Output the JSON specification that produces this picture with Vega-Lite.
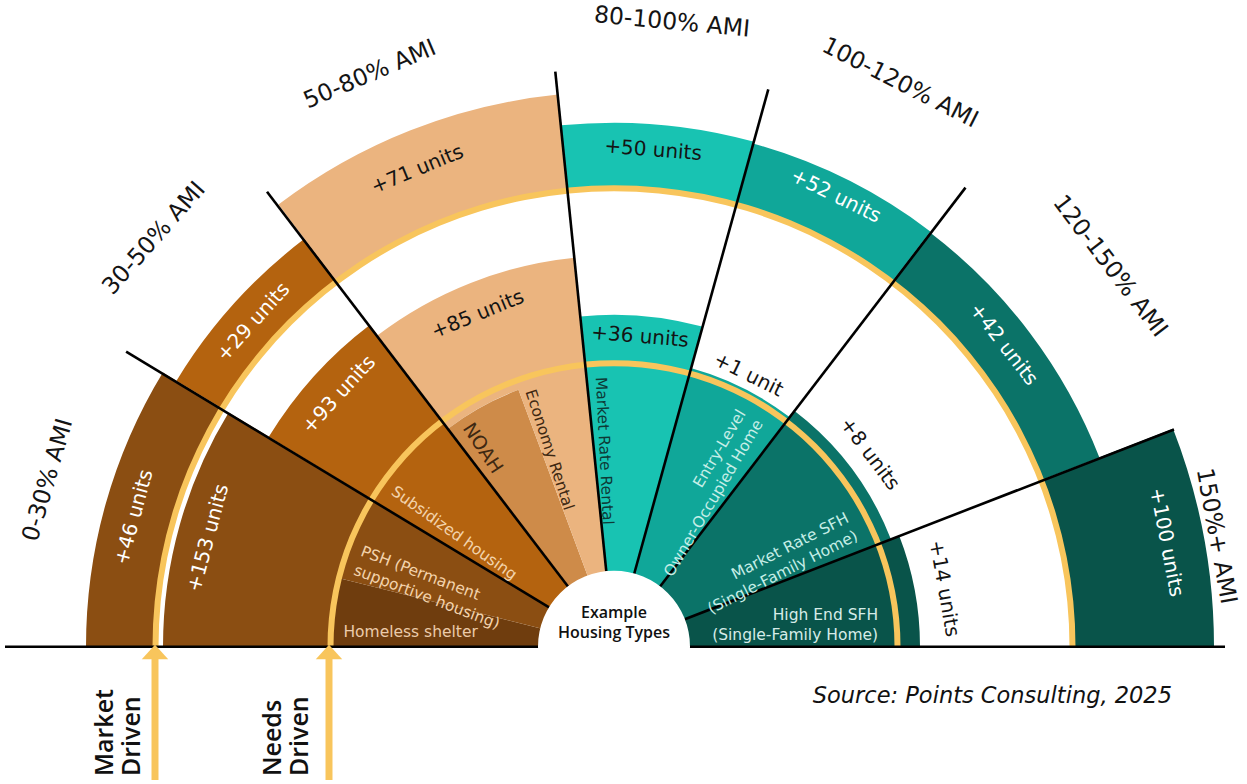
{
  "$schema": "https://vega.github.io/schema/vega-lite/v6.json",
  "width": 1247,
  "height": 784,
  "padding": 0,
  "autosize": {"type": "fit", "contains": "padding"},
  "background": "#ffffff",
  "config": {"view": {"stroke": null}, "text": {"font": "DejaVu Sans"}},
  "datasets": {
    "bands": [
      {"band": "+46 units", "a0": 0, "a1": 31.3, "r0": 458, "r1": 528, "shade": "0-30% AMI"},
      {"band": "+153 units", "a0": 0, "a1": 31.3, "r0": 283, "r1": 451, "shade": "0-30% AMI"},
      {"band": "Homeless shelter", "a0": 0, "a1": 14, "r0": 60, "r1": 283, "shade": "Homeless shelter"},
      {"band": "PSH", "a0": 14, "a1": 31.3, "r0": 60, "r1": 283, "shade": "0-30% AMI"},
      {"band": "+29 units", "a0": 31.3, "a1": 52.8, "r0": 458, "r1": 512, "shade": "30-50% AMI"},
      {"band": "+93 units", "a0": 31.3, "a1": 52.8, "r0": 283, "r1": 404, "shade": "30-50% AMI"},
      {"band": "Subsidized housing", "a0": 31.3, "a1": 52.8, "r0": 60, "r1": 283, "shade": "30-50% AMI"},
      {"band": "+71 units", "a0": 52.8, "a1": 84.2, "r0": 458, "r1": 555, "shade": "50-80% AMI"},
      {"band": "+85 units", "a0": 52.8, "a1": 84.2, "r0": 274, "r1": 391, "shade": "50-80% AMI"},
      {"band": "NOAH", "a0": 52.8, "a1": 69.6, "r0": 60, "r1": 274, "shade": "NOAH"},
      {"band": "Economy Rental", "a0": 69.6, "a1": 84.2, "r0": 60, "r1": 283, "shade": "50-80% AMI"},
      {"band": "+50 units", "a0": 84.2, "a1": 105.4, "r0": 458, "r1": 524, "shade": "80-100% AMI"},
      {"band": "+36 units", "a0": 84.2, "a1": 105.4, "r0": 283, "r1": 332, "shade": "80-100% AMI"},
      {"band": "Market Rate Rental", "a0": 84.2, "a1": 105.4, "r0": 60, "r1": 283, "shade": "80-100% AMI"},
      {"band": "+52 units", "a0": 105.4, "a1": 127.3, "r0": 458, "r1": 522, "shade": "100-120% AMI"},
      {"band": "+1 unit", "a0": 105.4, "a1": 127.3, "r0": 283, "r1": 289, "shade": "100-120% AMI"},
      {"band": "Entry-Level Owner-Occupied Home", "a0": 105.4, "a1": 127.3, "r0": 60, "r1": 283, "shade": "100-120% AMI"},
      {"band": "+42 units", "a0": 127.3, "a1": 158.7, "r0": 458, "r1": 521, "shade": "120-150% AMI"},
      {"band": "+8 units", "a0": 127.3, "a1": 158.7, "r0": 283, "r1": 297, "shade": "120-150% AMI"},
      {"band": "Market Rate SFH", "a0": 127.3, "a1": 158.7, "r0": 60, "r1": 283, "shade": "120-150% AMI"},
      {"band": "+100 units", "a0": 158.7, "a1": 180, "r0": 458, "r1": 600, "shade": "150%+ AMI"},
      {"band": "+14 units", "a0": 158.7, "a1": 180, "r0": 283, "r1": 306, "shade": "150%+ AMI"},
      {"band": "High End SFH", "a0": 158.7, "a1": 180, "r0": 60, "r1": 283, "shade": "150%+ AMI"},
      {"band": "Needs driven", "a0": 0, "a1": 180, "r0": 280.5, "r1": 286.5, "shade": "driver"},
      {"band": "Market driven", "a0": 0, "a1": 180, "r0": 455.5, "r1": 461.5, "shade": "driver"}
    ],
    "hub": [{"a0": -90, "a1": 270, "r0": 0, "r1": 76}],
    "lines": [
      {"x": -64.9, "y": 39.5, "x2": -487.9, "y2": 296.6},
      {"x": -46.0, "y": 60.5, "x2": -347.0, "y2": 457.2},
      {"x": -7.7, "y": 75.6, "x2": -58.7, "y2": 578.0},
      {"x": 20.2, "y": 73.3, "x2": 154.3, "y2": 560.1},
      {"x": 46.1, "y": 60.5, "x2": 351.5, "y2": 461.4},
      {"x": 70.8, "y": 27.6, "x2": 560.0, "y2": 218.3},
      {"x": -609, "y": 0, "x2": 611, "y2": 0}
    ],
    "arrows": [
      {"label": "Market Driven", "x": -459, "y": -134, "y2": -10, "tip": -6},
      {"label": "Needs Driven", "x": -285, "y": -134, "y2": -10, "tip": -6}
    ],
    "labels": [
      {"text": "0-30% AMI", "a": 16.4, "r": 590, "kind": "ami", "tone": "ink"},
      {"text": "30-50% AMI", "a": 41.6, "r": 615, "kind": "ami", "tone": "ink"},
      {"text": "50-80% AMI", "a": 66.9, "r": 622, "kind": "ami", "tone": "ink"},
      {"text": "80-100% AMI", "a": 95.3, "r": 627, "kind": "ami", "tone": "ink"},
      {"text": "100-120% AMI", "a": 116.9, "r": 632, "kind": "ami", "tone": "ink"},
      {"text": "120-150% AMI", "a": 142.5, "r": 625, "kind": "ami", "tone": "ink"},
      {"text": "150%+ AMI", "a": 169.6, "r": 612, "kind": "ami", "tone": "ink"},
      {"text": "+46 units", "a": 15.1, "r": 497, "kind": "units", "tone": "white"},
      {"text": "+153 units", "a": 15, "r": 420, "kind": "units", "tone": "white"},
      {"text": "+29 units", "a": 42, "r": 485, "kind": "units", "tone": "white"},
      {"text": "+93 units", "a": 42.5, "r": 373, "kind": "units", "tone": "white"},
      {"text": "+71 units", "a": 67.6, "r": 516, "kind": "units", "tone": "ink"},
      {"text": "+85 units", "a": 67.7, "r": 359, "kind": "units", "tone": "ink"},
      {"text": "+50 units", "a": 94.5, "r": 498, "kind": "units", "tone": "ink"},
      {"text": "+36 units", "a": 94.8, "r": 311, "kind": "units", "tone": "ink"},
      {"text": "+52 units", "a": 116.2, "r": 502, "kind": "units", "tone": "white"},
      {"text": "+1 unit", "a": 116.3, "r": 303, "kind": "units", "tone": "ink"},
      {"text": "+42 units", "a": 142.2, "r": 493, "kind": "units", "tone": "white"},
      {"text": "+8 units", "a": 143, "r": 320, "kind": "units", "tone": "ink"},
      {"text": "+14 units", "a": 170, "r": 335, "kind": "units", "tone": "ink"},
      {"text": "+100 units", "a": 169.3, "r": 562, "kind": "units", "tone": "white"},
      {"text": "Subsidized housing", "a": 35.4, "r": 271, "kind": "in", "tone": "peach"},
      {"text": "PSH (Permanent\nsupportive housing)", "a": 20.8, "r": 270, "kind": "in", "tone": "peach"},
      {"text": "NOAH", "a": 56.5, "r": 266, "kind": "in", "tone": "brown"},
      {"text": "Economy Rental", "a": 71.9, "r": 270, "kind": "in", "tone": "brown"},
      {"text": "Market Rate Rental", "a": 87.2, "r": 270, "kind": "in", "tone": "teal"},
      {"text": "Entry-Level\nOwner-Occupied Home", "a": 120.6, "r": 268, "kind": "out", "tone": "mint"},
      {"text": "Market Rate SFH\n(Single-Family Home)", "a": 153.1, "r": 267, "kind": "out", "tone": "mint"},
      {"text": "Homeless shelter", "a": 3.2, "r": 271, "kind": "flatL", "tone": "peach"},
      {"text": "High End SFH\n(Single-Family Home)", "a": 175.2, "r": 265, "kind": "flatR", "tone": "mint"},
      {"text": "Example\nHousing Types", "a": 90, "r": 24, "kind": "hub", "tone": "ink"}
    ],
    "notes": [
      {"text": "Market\nDriven", "x": -495.5, "y": -130, "kind": "driver"},
      {"text": "Needs\nDriven", "x": -327.5, "y": -130, "kind": "driver"},
      {"text": "Source: Points Consulting, 2025", "x": 558, "y": -50, "kind": "source"}
    ]
  },
  "resolve": {"scale": {"color": "independent", "angle": "independent"}},
  "layer": [
    {
      "data": {"name": "bands"},
      "mark": {"type": "arc", "stroke": null},
      "encoding": {
        "x": {"datum": 0, "type": "quantitative", "scale": {"domain": [-614, 633], "nice": false, "zero": false}, "axis": null},
        "y": {"datum": 0, "type": "quantitative", "scale": {"domain": [-134, 650], "nice": false, "zero": false}, "axis": null},
        "theta": {"field": "a0", "type": "quantitative", "stack": null, "scale": {"type": "linear", "domain": [0, 180], "range": [-1.5707963, 1.5707963], "zero": false, "nice": false}},
        "theta2": {"field": "a1"},
        "radius": {"field": "r1", "type": "quantitative", "scale": {"type": "linear", "domain": [0, 700], "range": [0, 700], "zero": true, "nice": false}},
        "radius2": {"field": "r0"},
        "color": {
          "field": "shade", "type": "nominal", "legend": null,
          "scale": {
            "domain": ["0-30% AMI", "Homeless shelter", "30-50% AMI", "50-80% AMI", "NOAH", "80-100% AMI", "100-120% AMI", "120-150% AMI", "150%+ AMI", "driver"],
            "range": ["#8B4E12", "#6F3D0E", "#B4630F", "#EBB47F", "#CE8B49", "#18C3B2", "#10A799", "#0B7368", "#09544A", "#F8C55C"]
          }
        }
      }
    },
    {
      "data": {"name": "lines"},
      "mark": {"type": "rule", "color": "#000000", "strokeWidth": 2.6},
      "encoding": {
        "x": {"field": "x", "type": "quantitative", "scale": {"domain": [-614, 633], "nice": false, "zero": false}, "axis": null},
        "y": {"field": "y", "type": "quantitative", "scale": {"domain": [-134, 650], "nice": false, "zero": false}, "axis": null},
        "x2": {"field": "x2"},
        "y2": {"field": "y2"}
      }
    },
    {
      "data": {"name": "hub"},
      "mark": {"type": "arc", "color": "#ffffff"},
      "encoding": {
        "x": {"datum": 0, "type": "quantitative"},
        "y": {"datum": 0, "type": "quantitative"},
        "theta": {"field": "a0", "type": "quantitative", "stack": null, "scale": {"type": "linear", "domain": [0, 180], "range": [-1.5707963, 1.5707963], "zero": false, "nice": false}},
        "theta2": {"field": "a1"},
        "radius": {"field": "r1", "type": "quantitative", "scale": {"type": "linear", "domain": [0, 700], "range": [0, 700], "zero": true, "nice": false}},
        "radius2": {"field": "r0"}
      }
    },
    {
      "data": {"name": "arrows"},
      "mark": {"type": "rule", "color": "#F8C55C", "strokeWidth": 7},
      "encoding": {
        "x": {"field": "x", "type": "quantitative"},
        "y": {"field": "y", "type": "quantitative"},
        "y2": {"field": "y2"}
      }
    },
    {
      "data": {"name": "arrows"},
      "mark": {"type": "point", "shape": "M-1,0.5L0,-0.6L1,0.5Z", "filled": true, "color": "#F8C55C", "opacity": 1, "size": 700},
      "encoding": {
        "x": {"field": "x", "type": "quantitative"},
        "y": {"field": "tip", "type": "quantitative"}
      }
    },
    {
      "data": {"name": "labels"},
      "transform": [{"filter": "datum.kind === 'ami' || datum.kind === 'units'"}],
      "mark": {"type": "text", "align": "center", "baseline": "middle", "font": "DejaVu Sans"},
      "encoding": {
        "x": {"datum": 0, "type": "quantitative"},
        "y": {"datum": 0, "type": "quantitative"},
        "theta": {"field": "a", "type": "quantitative", "stack": null, "scale": {"type": "linear", "domain": [0, 180], "range": [-1.5707963, 1.5707963], "zero": false, "nice": false}},
        "radius": {"field": "r", "type": "quantitative", "scale": {"type": "linear", "domain": [0, 700], "range": [0, 700], "zero": true, "nice": false}},
        "angle": {"field": "a", "type": "quantitative", "scale": {"domain": [0, 180], "range": [-90, 90], "zero": false, "nice": false}},
        "size": {"condition": {"test": "datum.kind === 'ami'", "value": 23.5}, "value": 20},
        "text": {"field": "text"},
        "color": {"field": "tone", "type": "nominal", "legend": null, "scale": {"domain": ["ink", "white", "peach", "mint", "brown", "teal"], "range": ["#141414", "#ffffff", "#F3D3AC", "#C6EEE7", "#3E2812", "#0E3A36"]}}
      }
    },
    {
      "data": {"name": "labels"},
      "transform": [{"filter": "datum.kind === 'in'"}],
      "mark": {"type": "text", "align": "left", "baseline": "middle", "font": "DejaVu Sans", "lineBreak": "\n", "lineHeight": 20},
      "encoding": {
        "x": {"datum": 0, "type": "quantitative"},
        "y": {"datum": 0, "type": "quantitative"},
        "theta": {"field": "a", "type": "quantitative", "stack": null, "scale": {"type": "linear", "domain": [0, 180], "range": [-1.5707963, 1.5707963], "zero": false, "nice": false}},
        "radius": {"field": "r", "type": "quantitative", "scale": {"type": "linear", "domain": [0, 700], "range": [0, 700], "zero": true, "nice": false}},
        "angle": {"field": "a", "type": "quantitative", "scale": {"domain": [0, 180], "range": [0, 180], "zero": false, "nice": false}},
        "size": {"condition": {"test": "datum.text === 'NOAH'", "value": 19}, "value": 15.5},
        "text": {"field": "text"},
        "color": {"field": "tone", "type": "nominal", "legend": null, "scale": {"domain": ["ink", "white", "peach", "mint", "brown", "teal"], "range": ["#141414", "#ffffff", "#F3D3AC", "#C6EEE7", "#3E2812", "#0E3A36"]}}
      }
    },
    {
      "data": {"name": "labels"},
      "transform": [{"filter": "datum.kind === 'out'"}],
      "mark": {"type": "text", "align": "right", "baseline": "middle", "font": "DejaVu Sans", "fontSize": 15.5, "lineBreak": "\n", "lineHeight": 20, "dy": -10},
      "encoding": {
        "x": {"datum": 0, "type": "quantitative"},
        "y": {"datum": 0, "type": "quantitative"},
        "theta": {"field": "a", "type": "quantitative", "stack": null, "scale": {"type": "linear", "domain": [0, 180], "range": [-1.5707963, 1.5707963], "zero": false, "nice": false}},
        "radius": {"field": "r", "type": "quantitative", "scale": {"type": "linear", "domain": [0, 700], "range": [0, 700], "zero": true, "nice": false}},
        "angle": {"field": "a", "type": "quantitative", "scale": {"domain": [0, 180], "range": [-180, 0], "zero": false, "nice": false}},
        "text": {"field": "text"},
        "color": {"field": "tone", "type": "nominal", "legend": null, "scale": {"domain": ["ink", "white", "peach", "mint", "brown", "teal"], "range": ["#141414", "#ffffff", "#F3D3AC", "#C6EEE7", "#3E2812", "#0E3A36"]}}
      }
    },
    {
      "data": {"name": "labels"},
      "transform": [{"filter": "datum.kind === 'flatL'"}],
      "mark": {"type": "text", "align": "left", "baseline": "middle", "font": "DejaVu Sans", "fontSize": 15.5, "color": "#EBCBAA"},
      "encoding": {
        "x": {"datum": 0, "type": "quantitative"},
        "y": {"datum": 0, "type": "quantitative"},
        "theta": {"field": "a", "type": "quantitative", "stack": null, "scale": {"type": "linear", "domain": [0, 180], "range": [-1.5707963, 1.5707963], "zero": false, "nice": false}},
        "radius": {"field": "r", "type": "quantitative", "scale": {"type": "linear", "domain": [0, 700], "range": [0, 700], "zero": true, "nice": false}},
        "text": {"field": "text"}
      }
    },
    {
      "data": {"name": "labels"},
      "transform": [{"filter": "datum.kind === 'flatR'"}],
      "mark": {"type": "text", "align": "right", "baseline": "middle", "font": "DejaVu Sans", "fontSize": 15.5, "lineBreak": "\n", "lineHeight": 20, "dy": -10, "color": "#D6ECE8"},
      "encoding": {
        "x": {"datum": 0, "type": "quantitative"},
        "y": {"datum": 0, "type": "quantitative"},
        "theta": {"field": "a", "type": "quantitative", "stack": null, "scale": {"type": "linear", "domain": [0, 180], "range": [-1.5707963, 1.5707963], "zero": false, "nice": false}},
        "radius": {"field": "r", "type": "quantitative", "scale": {"type": "linear", "domain": [0, 700], "range": [0, 700], "zero": true, "nice": false}},
        "text": {"field": "text"}
      }
    },
    {
      "data": {"name": "labels"},
      "transform": [{"filter": "datum.kind === 'hub'"}],
      "mark": {"type": "text", "align": "center", "baseline": "middle", "font": "Open Sans", "fontWeight": 600, "fontSize": 16, "lineBreak": "\n", "lineHeight": 20, "dy": -10, "color": "#111111"},
      "encoding": {
        "x": {"datum": 0, "type": "quantitative"},
        "y": {"datum": 0, "type": "quantitative"},
        "theta": {"field": "a", "type": "quantitative", "stack": null, "scale": {"type": "linear", "domain": [0, 180], "range": [-1.5707963, 1.5707963], "zero": false, "nice": false}},
        "radius": {"field": "r", "type": "quantitative", "scale": {"type": "linear", "domain": [0, 700], "range": [0, 700], "zero": true, "nice": false}},
        "text": {"field": "text"}
      }
    },
    {
      "data": {"name": "notes"},
      "transform": [{"filter": "datum.kind === 'driver'"}],
      "mark": {"type": "text", "align": "left", "baseline": "middle", "angle": 270, "font": "Open Sans", "fontWeight": 600, "fontSize": 25, "lineBreak": "\n", "lineHeight": 27, "dy": -13.5, "color": "#111111"},
      "encoding": {
        "x": {"field": "x", "type": "quantitative"},
        "y": {"field": "y", "type": "quantitative"},
        "text": {"field": "text"}
      }
    },
    {
      "data": {"name": "notes"},
      "transform": [{"filter": "datum.kind === 'source'"}],
      "mark": {"type": "text", "align": "right", "baseline": "middle", "font": "DejaVu Sans", "fontStyle": "italic", "fontSize": 22.5, "color": "#111111"},
      "encoding": {
        "x": {"field": "x", "type": "quantitative"},
        "y": {"field": "y", "type": "quantitative"},
        "text": {"field": "text"}
      }
    }
  ]
}
